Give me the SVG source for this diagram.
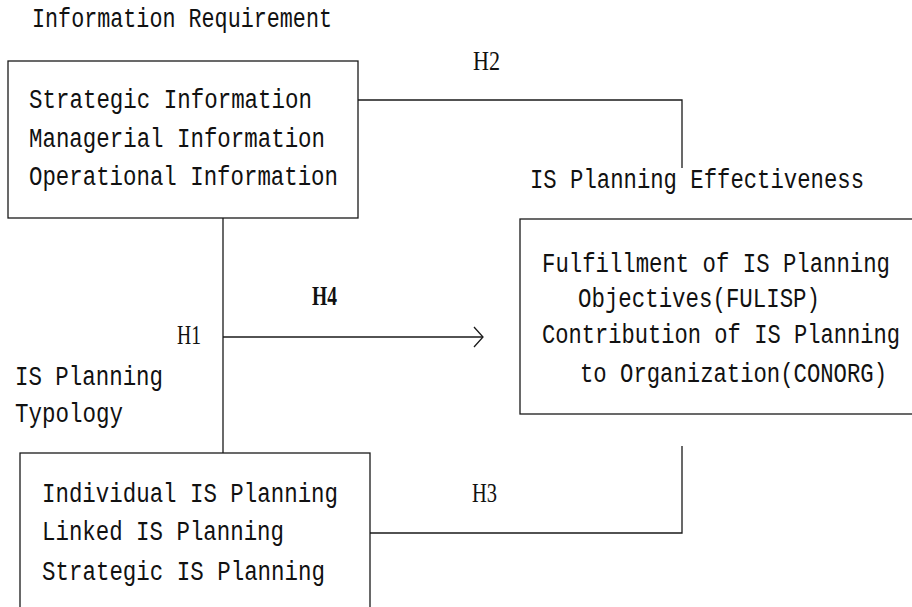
<svg xmlns="http://www.w3.org/2000/svg" width="912" height="607" viewBox="0 0 912 607">
<style>
.box{fill:none;stroke:#1a1a1a;stroke-width:1.3}
.con{fill:none;stroke:#1a1a1a;stroke-width:1.3}
.t{font-family:"Liberation Mono","DejaVu Sans Mono",monospace;font-size:27px;fill:#111}
.h{font-family:"Liberation Serif","DejaVu Serif",serif;font-size:27px;fill:#111}
</style>
<defs>
<marker id="open" markerWidth="12" markerHeight="22" refX="10" refY="11" orient="auto" markerUnits="userSpaceOnUse">
<polyline points="1,1 10,11 1,21" fill="none" stroke="#1a1a1a" stroke-width="1.3"/>
</marker>
</defs>
<rect width="912" height="607" fill="#fff"/>
<g id="connectors">
<path class="con" d="M358,100 H682 V168"/>
<path class="con" d="M223,218 V453"/>
<path class="con" d="M223,337 H483" marker-end="url(#open)"/>
<path class="con" d="M370,533 H682 V446"/>
<text class="h" x="473" y="70" textLength="27" lengthAdjust="spacingAndGlyphs">H2</text>
<text class="h" x="177" y="344" textLength="24" lengthAdjust="spacingAndGlyphs">H1</text>
<text class="h" x="312" y="305" textLength="25" lengthAdjust="spacingAndGlyphs" font-weight="bold">H4</text>
<text class="h" x="472" y="502" textLength="25" lengthAdjust="spacingAndGlyphs">H3</text>
</g>
<g id="information-requirement">
<text class="t" x="32" y="27" textLength="300" lengthAdjust="spacingAndGlyphs">Information Requirement</text>
<rect class="box" x="8" y="61" width="350" height="157"/>
<text class="t" x="29" y="108" textLength="283" lengthAdjust="spacingAndGlyphs">Strategic Information</text>
<text class="t" x="29" y="147" textLength="296" lengthAdjust="spacingAndGlyphs">Managerial Information</text>
<text class="t" x="29" y="185" textLength="309" lengthAdjust="spacingAndGlyphs">Operational Information</text>
</g>
<g id="is-planning-effectiveness">
<text class="t" x="530" y="188" textLength="334" lengthAdjust="spacingAndGlyphs">IS Planning Effectiveness</text>
<rect class="box" x="520" y="219" width="420" height="195"/>
<text class="t" x="542" y="272" textLength="348" lengthAdjust="spacingAndGlyphs">Fulfillment of IS Planning</text>
<text class="t" x="578" y="307" textLength="242" lengthAdjust="spacingAndGlyphs">Objectives(FULISP)</text>
<text class="t" x="542" y="343" textLength="358" lengthAdjust="spacingAndGlyphs">Contribution of IS Planning</text>
<text class="t" x="580" y="382" textLength="307" lengthAdjust="spacingAndGlyphs">to Organization(CONORG)</text>
</g>
<g id="is-planning-typology">
<text class="t" x="15" y="385" textLength="148" lengthAdjust="spacingAndGlyphs">IS Planning</text>
<text class="t" x="15" y="422" textLength="108" lengthAdjust="spacingAndGlyphs">Typology</text>
<rect class="box" x="20" y="453" width="350" height="170"/>
<text class="t" x="42" y="502" textLength="296" lengthAdjust="spacingAndGlyphs">Individual IS Planning</text>
<text class="t" x="42" y="540" textLength="242" lengthAdjust="spacingAndGlyphs">Linked IS Planning</text>
<text class="t" x="42" y="580" textLength="283" lengthAdjust="spacingAndGlyphs">Strategic IS Planning</text>
</g>
</svg>
